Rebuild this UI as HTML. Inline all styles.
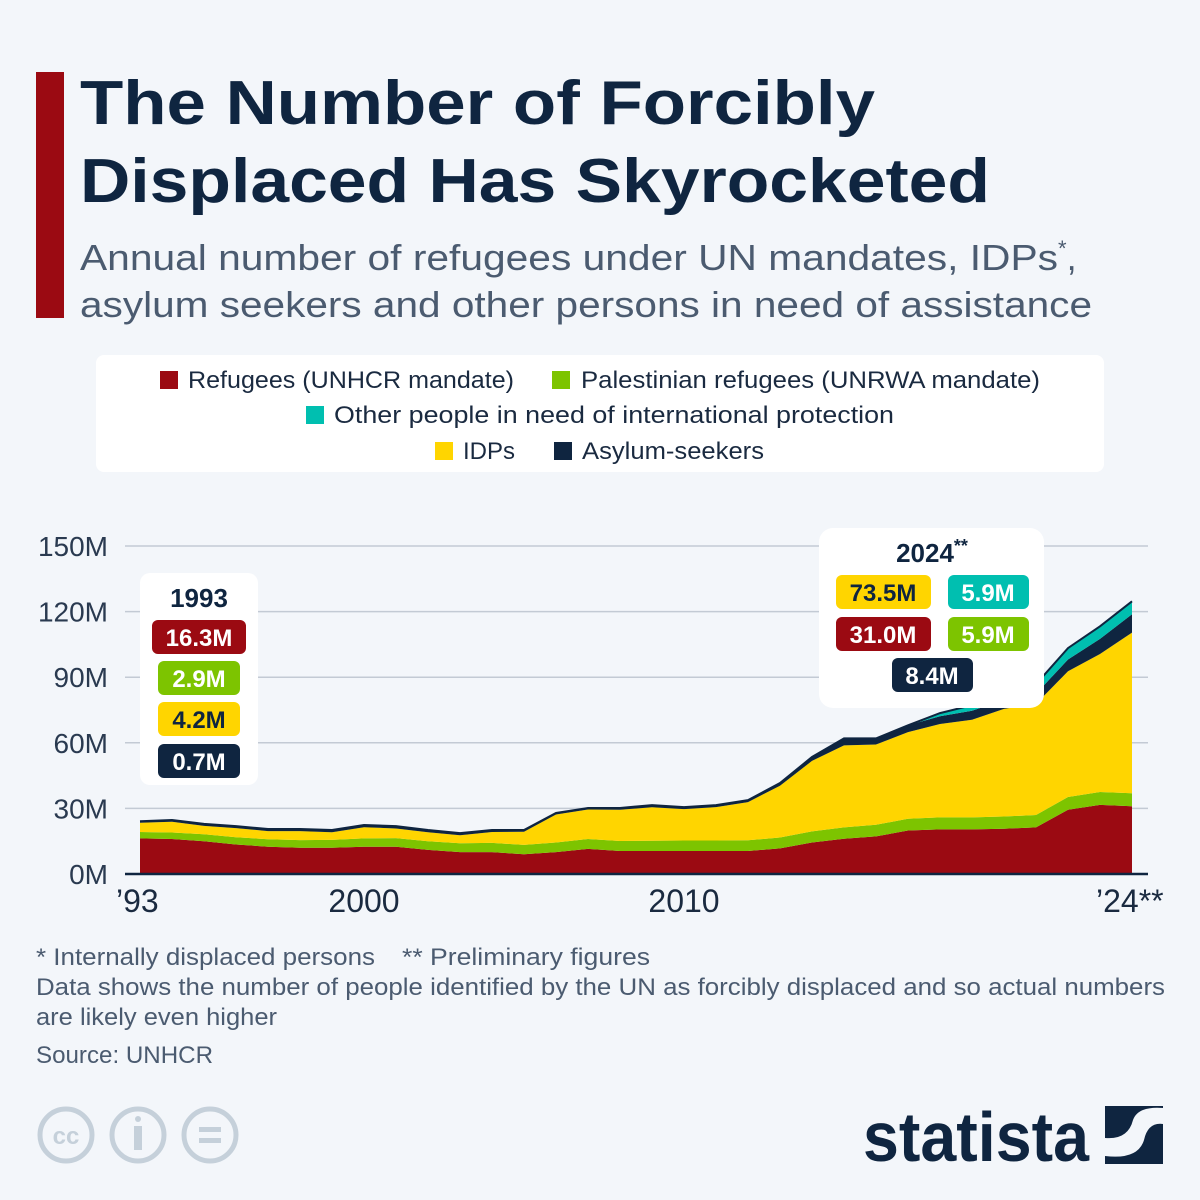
<!DOCTYPE html>
<html><head><meta charset="utf-8"><style>
html,body{margin:0;padding:0;background:#f3f6fa;}
svg{display:block;font-family:"Liberation Sans",sans-serif;}
</style></head><body>
<svg id="chart" width="1200" height="1200" viewBox="0 0 1200 1200">
<rect x="0" y="0" width="1200" height="1200" fill="#f3f6fa"/>
<rect x="36" y="72" width="28" height="246" fill="#9b0a12"/>
<text x="80" y="124" font-size="62" font-weight="bold" fill="#0f2540" textLength="795" lengthAdjust="spacingAndGlyphs">The Number of Forcibly</text>
<text x="80" y="202" font-size="62" font-weight="bold" fill="#0f2540" textLength="910" lengthAdjust="spacingAndGlyphs">Displaced Has Skyrocketed</text>
<text x="80" y="270" font-size="36" fill="#4b5b70"><tspan textLength="978" lengthAdjust="spacingAndGlyphs">Annual number of refugees under UN mandates, IDPs</tspan><tspan font-size="22" dy="-14">*</tspan><tspan dy="14">,</tspan></text>
<text x="80" y="317" font-size="36" fill="#4b5b70" textLength="1012" lengthAdjust="spacingAndGlyphs">asylum seekers and other persons in need of assistance</text>

<g>
<rect x="96" y="355" width="1008" height="117" rx="8" fill="#ffffff"/>
<g><rect x="160" y="371" width="18" height="18" fill="#9b0a12"/><text x="188" y="388" font-size="24" fill="#1a2a40" textLength="326" lengthAdjust="spacingAndGlyphs">Refugees (UNHCR mandate)</text></g>
<g><rect x="552" y="371" width="18" height="18" fill="#7dc400"/><text x="581" y="388" font-size="24" fill="#1a2a40" textLength="459" lengthAdjust="spacingAndGlyphs">Palestinian refugees (UNRWA mandate)</text></g>
<g><rect x="306" y="406" width="18" height="18" fill="#00bfb0"/><text x="334" y="423" font-size="24" fill="#1a2a40" textLength="560" lengthAdjust="spacingAndGlyphs">Other people in need of international protection</text></g>
<g><rect x="435" y="442" width="18" height="18" fill="#ffd500"/><text x="463" y="459" font-size="24" fill="#1a2a40" textLength="52" lengthAdjust="spacingAndGlyphs">IDPs</text></g>
<g><rect x="554" y="442" width="18" height="18" fill="#0f2540"/><text x="582" y="459" font-size="24" fill="#1a2a40" textLength="182" lengthAdjust="spacingAndGlyphs">Asylum-seekers</text></g>
</g>

<g id="grid"></g>
<g id="areas"></g>
<g id="axes"></g>

<g>
<rect x="140" y="573" width="118" height="212" rx="10" fill="#ffffff"/>
<text x="199" y="607" font-size="26" font-weight="bold" fill="#0f2540" text-anchor="middle">1993</text>
<rect x="152" y="620" width="94" height="34" rx="6" fill="#9b0a12"/><text x="199" y="646" font-size="24" font-weight="bold" fill="#fff" text-anchor="middle">16.3M</text>
<rect x="158" y="661" width="82" height="34" rx="6" fill="#7dc400"/><text x="199" y="687" font-size="24" font-weight="bold" fill="#fff" text-anchor="middle">2.9M</text>
<rect x="158" y="702" width="82" height="34" rx="6" fill="#ffd500"/><text x="199" y="728" font-size="24" font-weight="bold" fill="#0f2540" text-anchor="middle">4.2M</text>
<rect x="158" y="744" width="82" height="34" rx="6" fill="#0f2540"/><text x="199" y="770" font-size="24" font-weight="bold" fill="#fff" text-anchor="middle">0.7M</text>
</g>
<g>
<rect x="819" y="528" width="225" height="180" rx="14" fill="#ffffff"/>
<text x="932" y="562" font-size="26" font-weight="bold" fill="#0f2540" text-anchor="middle">2024<tspan font-size="18" dy="-10">**</tspan></text>
<rect x="836" y="575" width="95" height="34" rx="6" fill="#ffd500"/><text x="883" y="601" font-size="24" font-weight="bold" fill="#0f2540" text-anchor="middle">73.5M</text>
<rect x="948" y="575" width="81" height="34" rx="6" fill="#00bfb0"/><text x="988" y="601" font-size="24" font-weight="bold" fill="#fff" text-anchor="middle">5.9M</text>
<rect x="836" y="617" width="95" height="34" rx="6" fill="#9b0a12"/><text x="883" y="643" font-size="24" font-weight="bold" fill="#fff" text-anchor="middle">31.0M</text>
<rect x="948" y="617" width="81" height="34" rx="6" fill="#7dc400"/><text x="988" y="643" font-size="24" font-weight="bold" fill="#fff" text-anchor="middle">5.9M</text>
<rect x="892" y="658" width="81" height="34" rx="6" fill="#0f2540"/><text x="932" y="684" font-size="24" font-weight="bold" fill="#fff" text-anchor="middle">8.4M</text>
</g>

<g font-size="24" fill="#4b5b70">
<text x="36" y="965" textLength="339" lengthAdjust="spacingAndGlyphs">* Internally displaced persons</text>
<text x="402" y="965" textLength="248" lengthAdjust="spacingAndGlyphs">** Preliminary figures</text>
<text x="36" y="995" textLength="1129" lengthAdjust="spacingAndGlyphs">Data shows the number of people identified by the UN as forcibly displaced and so actual numbers</text>
<text x="36" y="1025" textLength="241" lengthAdjust="spacingAndGlyphs">are likely even higher</text>
<text x="36" y="1063" textLength="177" lengthAdjust="spacingAndGlyphs">Source: UNHCR</text>
</g>
<g fill="none" stroke="#c5d0da" stroke-width="5">
<circle cx="66" cy="1135" r="26"/><text x="66" y="1144" font-size="24" font-weight="bold" fill="#c5d0da" stroke="none" text-anchor="middle">cc</text>
<circle cx="138" cy="1135" r="26"/><circle cx="138" cy="1119" r="3" fill="#c5d0da" stroke="none"/><rect x="134" y="1126" width="8" height="24" fill="#c5d0da" stroke="none"/>
<circle cx="210" cy="1135" r="26"/><rect x="199" y="1127" width="22" height="5" fill="#c5d0da" stroke="none"/><rect x="199" y="1138" width="22" height="5" fill="#c5d0da" stroke="none"/>
</g>
<g>
<text x="863" y="1161" font-size="70" font-weight="bold" fill="#0f2540" textLength="226" lengthAdjust="spacingAndGlyphs">statista</text>
<rect x="1105" y="1106" width="58" height="58" fill="#0f2540"/>
<path d="M1105 1138 Q1128 1140 1133 1120 Q1138 1106 1163 1108 L1163 1124 Q1148 1122 1144 1140 Q1138 1160 1105 1156 Z" fill="#f3f6fa"/>
</g>
</svg>
<script>
const years = [1993,1994,1995,1996,1997,1998,1999,2000,2001,2002,2003,2004,2005,2006,2007,2008,2009,2010,2011,2012,2013,2014,2015,2016,2017,2018,2019,2020,2021,2022,2023,2024];
const refugees = [16.3,16.0,15.0,13.5,12.5,12.0,12.0,12.5,12.5,11.0,10.0,10.0,9.0,10.0,11.5,10.5,10.5,10.5,10.5,10.5,11.7,14.4,16.1,17.2,19.9,20.4,20.4,20.7,21.3,29.4,31.6,31.0];
const palestinian = [2.9,3.0,3.2,3.3,3.4,3.5,3.6,3.8,3.9,4.0,4.1,4.2,4.3,4.4,4.5,4.6,4.7,4.8,4.8,4.9,5.0,5.1,5.2,5.3,5.4,5.5,5.5,5.6,5.7,5.8,5.9,5.9];
const idps = [4.2,4.9,3.8,4.2,3.7,4.1,3.5,5.1,4.4,4.1,3.6,5.0,6.0,12.8,13.5,14.3,15.3,14.4,15.3,17.5,23.7,32.2,37.5,36.7,39.6,42.7,44.6,49.2,50.8,57.5,63.1,73.5];
const asylum = [0.7,0.8,0.9,0.9,1.0,1.0,1.0,1.0,1.1,1.0,1.0,0.9,0.8,0.7,0.7,0.8,1.0,0.9,0.9,0.9,1.2,1.8,3.2,2.8,3.1,3.5,4.2,4.1,4.6,5.4,6.9,8.4];
const other = [0,0,0,0,0,0,0,0,0,0,0,0,0,0,0,0,0,0,0,0,0,0,0,0,0,1.5,2.5,3.6,4.4,5.2,5.8,5.9];
const yTicks = [0,30,60,90,120,150];
const xTickYears = [1993,2000,2010,2024];
const xTickLabels = ["’93","2000","2010","’24**"];

const NS = "http://www.w3.org/2000/svg";
const X0 = 140, X1 = 1132, Y0 = 874, YTOP = 546, YMAX = 150;
function xs(yr){ return X0 + (yr - years[0]) * (X1 - X0) / (years[years.length-1] - years[0]); }
function ys(v){ return Y0 - v * (Y0 - YTOP) / YMAX; }

const grid = document.getElementById('grid');
yTicks.forEach(t => {
  if (t > 0) {
    const l = document.createElementNS(NS,'line');
    l.setAttribute('x1',125); l.setAttribute('x2',1148);
    l.setAttribute('y1',ys(t)); l.setAttribute('y2',ys(t));
    l.setAttribute('stroke','#c3cad4'); l.setAttribute('stroke-width','1.5');
    
    
    grid.appendChild(l);
  }
  const tx = document.createElementNS(NS,'text');
  tx.setAttribute('x',108); tx.setAttribute('y',ys(t)+10);
  tx.setAttribute('font-size','28'); tx.setAttribute('fill','#2a3a50'); tx.setAttribute('text-anchor','end');
  tx.textContent = t + 'M';
  
  
  grid.appendChild(tx);
});

const series = [
  {v: refugees, c: '#9b0a12', n: 'area-refugees'},
  {v: palestinian, c: '#7dc400', n: 'area-palestinian'},
  {v: idps, c: '#ffd500', n: 'area-idps'},
  {v: asylum, c: '#0f2540', n: 'area-asylum'},
  {v: other, c: '#00bfb0', n: 'area-other'}
];
const areas = document.getElementById('areas');
const base = years.map(() => 0);
series.forEach(s => {
  const top = base.map((b,i) => b + s.v[i]);
  let d = '';
  years.forEach((yr,i) => { d += (i ? 'L' : 'M') + xs(yr).toFixed(1) + ' ' + ys(top[i]).toFixed(1) + ' '; });
  for (let i = years.length - 1; i >= 0; i--) d += 'L' + xs(years[i]).toFixed(1) + ' ' + ys(base[i]).toFixed(1) + ' ';
  d += 'Z';
  const p = document.createElementNS(NS,'path');
  p.setAttribute('d', d); p.setAttribute('fill', s.c);
  
  
  areas.appendChild(p);
  top.forEach((t,i) => base[i] = t);
});
let td = '';
years.forEach((yr,i) => { td += (i ? 'L' : 'M') + xs(yr).toFixed(1) + ' ' + ys(base[i]).toFixed(1) + ' '; });
const tl = document.createElementNS(NS,'path');
tl.setAttribute('d', td); tl.setAttribute('fill','none'); tl.setAttribute('stroke','#0f2540'); tl.setAttribute('stroke-width','2');


areas.appendChild(tl);

const axes = document.getElementById('axes');
const bl = document.createElementNS(NS,'line');
bl.setAttribute('x1',125); bl.setAttribute('x2',1148); bl.setAttribute('y1',Y0); bl.setAttribute('y2',Y0);
bl.setAttribute('stroke','#0f2540'); bl.setAttribute('stroke-width','2.5');


axes.appendChild(bl);
xTickYears.forEach((yr,i) => {
  const t = document.createElementNS(NS,'text');
  let x = xs(yr), anchor = 'middle';
  if (i === 0) { x = 116; anchor = 'start'; }
  if (i === xTickYears.length - 1) { x = 1096; anchor = 'start'; }
  t.setAttribute('x', x); t.setAttribute('y', 912);
  t.setAttribute('font-size','32'); t.setAttribute('fill','#1a2a40'); t.setAttribute('text-anchor', anchor);
  t.textContent = xTickLabels[i];
  
  
  axes.appendChild(t);
});
</script>
</body></html>
